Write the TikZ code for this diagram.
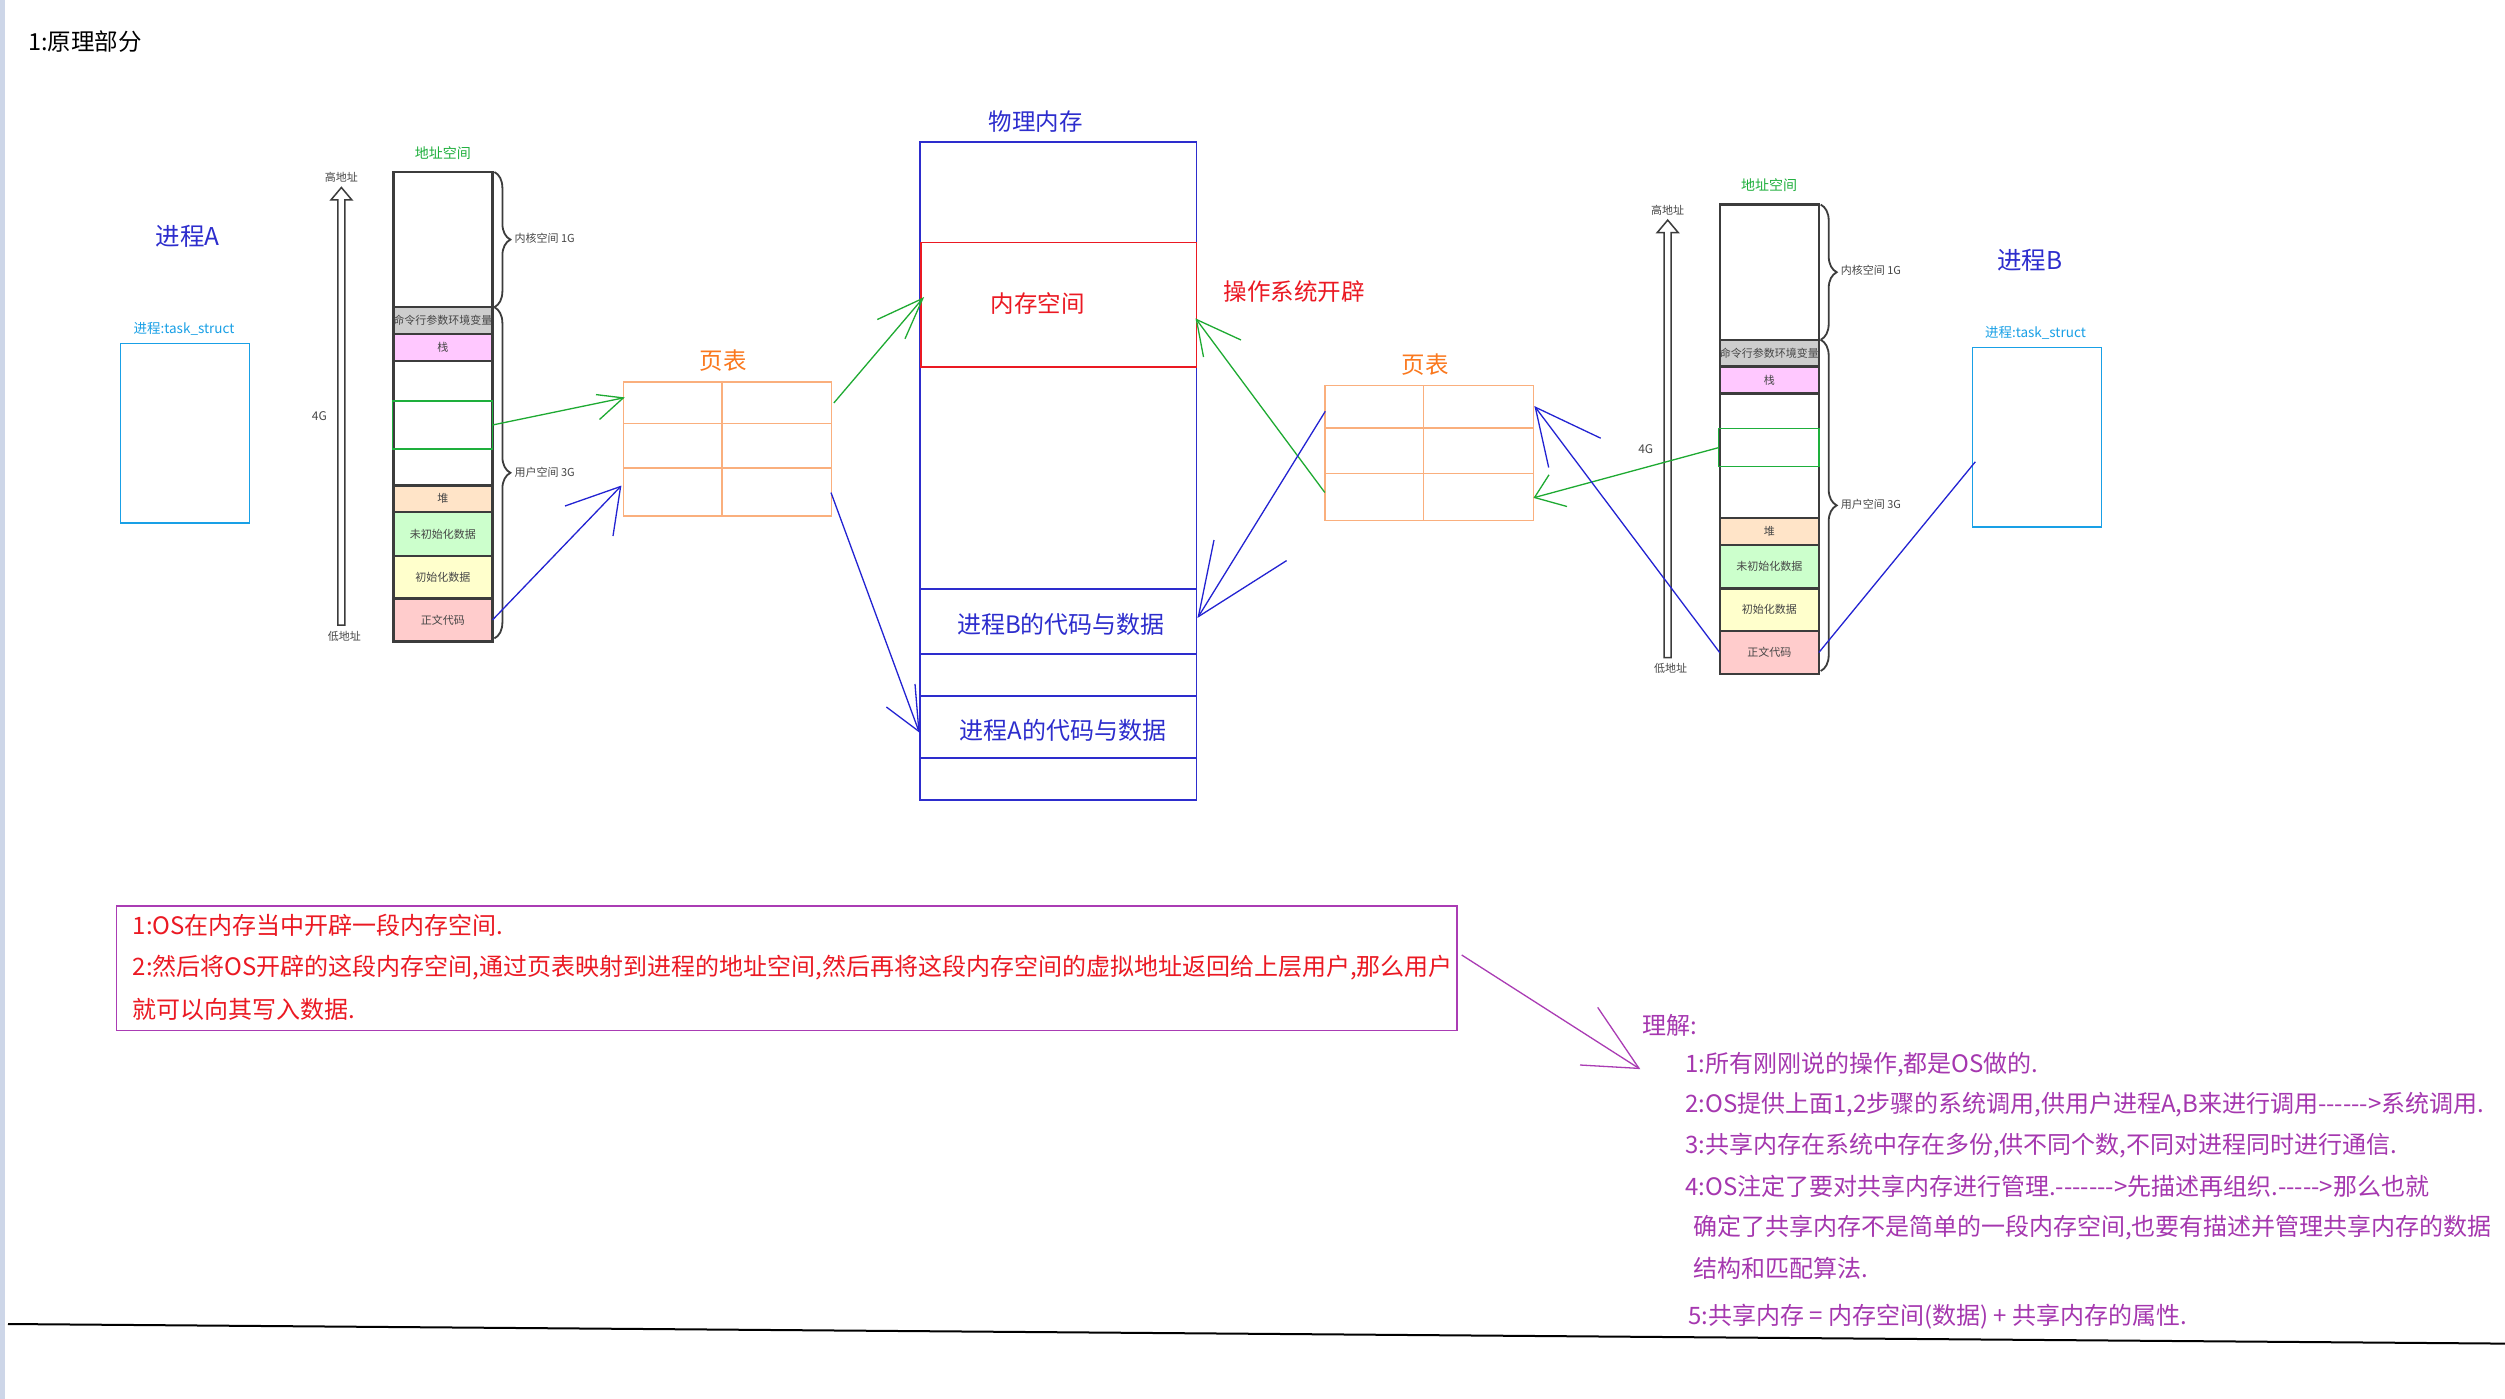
\documentclass[tikz,border=0pt]{standalone}
\usepackage{fontspec}
\setmainfont{Noto Sans CJK SC}[Ligatures=TeXOff]
\usetikzlibrary{decorations.pathreplacing}
\newcommand\myfs[1]{\fontsize{#1}{#1}\selectfont}
\definecolor{pblue}{RGB}{45,45,205}
\definecolor{cyanb}{RGB}{25,160,230}
\definecolor{agreen}{RGB}{30,175,60}
\definecolor{lgreen}{RGB}{30,170,50}
\definecolor{ablue}{RGB}{35,35,210}
\definecolor{orng}{RGB}{250,120,30}
\definecolor{ptl}{RGB}{250,175,125}
\definecolor{rred}{RGB}{235,25,35}
\definecolor{ppl}{RGB}{170,60,180}
\definecolor{ptext}{RGB}{165,55,175}
\definecolor{segline}{RGB}{60,60,60}
\definecolor{segtext}{RGB}{70,70,70}
\definecolor{cmdgray}{RGB}{205,205,205}
\definecolor{stackpink}{RGB}{255,200,255}
\definecolor{heappeach}{RGB}{255,228,200}
\definecolor{bssgreen}{RGB}{204,255,204}
\definecolor{datayellow}{RGB}{255,255,204}
\definecolor{textred}{RGB}{255,204,204}
\definecolor{leftstrip}{RGB}{205,214,232}
\definecolor{baseline}{RGB}{60,60,60}
\tikzset{
  seg/.style={draw=segline, line width=2.4pt, minimum width=99.1pt, inner sep=0pt, outer sep=0pt, anchor=north west, font={\myfs{11}}, text=segtext},
  lbl/.style={inner sep=0pt, font={\myfs{11}}, text=segtext},
  bigtxt/.style={inner sep=0pt, font={\myfs{23.5}}},
  gline/.style={draw=lgreen, line width=1.3pt},
  bline/.style={draw=ablue, line width=1.3pt},
  pline/.style={draw=ppl, line width=1.3pt},
  braced/.style={draw=segline, line width=1.8pt, decorate, decoration={brace, amplitude=16pt}},
  ptbox/.style={draw=ptl, line width=1.5pt, inner sep=0pt, outer sep=0pt, anchor=north west},
  ptgrid/.style={draw=ptl, line width=1.5pt},
  membox/.style={draw=pblue, line width=1.8pt, inner sep=0pt, outer sep=0pt, anchor=north west},
  notetxt/.style={inner sep=0pt, anchor=west, font={\myfs{24}}},
  tsbox/.style={draw=cyanb, line width=1.5pt, inner sep=0pt, outer sep=0pt, anchor=north west},
}
\newcommand\addrspace[5]{%
\begin{scope}[shift={(#2,#3)}]
\draw[segline, line width=1.5pt, fill=white] (-55.5,453) -- (-55.5,28) -- (-62.5,28) -- (-52,15.5) -- (-41.5,28) -- (-48.5,28) -- (-48.5,453) -- cycle;
\node[seg, minimum height=135.2pt, fill=white] (#1kern) at (0,0) {};
\node[seg, minimum height=26.8pt, fill=cmdgray] (#1cmd) at (0,135.2) {命令行参数环境变量};
\node[seg, minimum height=26.8pt, fill=stackpink] (#1stack) at (0,162) {栈};
\node[seg, minimum height=124.5pt, fill=white] (#1free) at (0,188.8) {};
\node[seg, minimum height=26.8pt, fill=heappeach] (#1heap) at (0,313.3) {堆};
\node[seg, minimum height=43.8pt, fill=bssgreen] (#1bss) at (0,340.1) {未初始化数据};
\node[seg, minimum height=42.4pt, fill=datayellow] (#1data) at (0,383.9) {初始化数据};
\node[seg, minimum height=43.3pt, fill=textred] (#1text) at (0,426.3) {正文代码};
\node[draw=agreen, line width=1.5pt, inner sep=0pt, outer sep=0pt, anchor=north west, minimum width=100.1pt, minimum height=#5pt] (#1shm) at (-1,#4) {};
\node[inner sep=0pt, font={\myfs{14}}, text=agreen] (#1title) at (49.5,-19) {地址空间};
\node[lbl] (#1hi) at (-52,5.7) {高地址};
\node[lbl] (#1lo) at (-49,464) {低地址};
\node[lbl, font={\myfs{12}}] (#1four) at (-74,244.5) {4G};
\draw[braced] (101,0) -- (101,135.2);
\draw[braced] (101,135.2) -- (101,466.4);
\node[lbl, anchor=west] (#1kl) at (121,66) {内核空间 1G};
\node[lbl, anchor=west] (#1ul) at (121,300) {用户空间 3G};
\end{scope}}
\begin{document}
\begin{tikzpicture}[x=1pt,y=-1pt]
\useasboundingbox (0,0) rectangle (2505,1399);
\fill[white] (0,0) rectangle (2505,1399);
\fill[leftstrip] (0,0) rectangle (5,1399);

\node[bigtxt] (title) at (85,42) {1:原理部分};

% process A
\node[bigtxt, font={\myfs{24.5}}, text=pblue] (procA) at (187.5,236.6) {进程A};
\node[inner sep=0pt, font={\myfs{13.5}}, text=cyanb] (tsAl) at (184,329) {进程:task\_struct};
\node[tsbox, minimum width=129pt, minimum height=179.5pt] (tsA) at (120.5,343.7) {};

% process B
\node[bigtxt, font={\myfs{24.5}}, text=pblue] (procB) at (2029.7,260.7) {进程B};
\node[inner sep=0pt, font={\myfs{13.5}}, text=cyanb] (tsBl) at (2035.4,332.9) {进程:task\_struct};
\node[tsbox, minimum width=129.3pt, minimum height=179.3pt] (tsB) at (1972.3,347.5) {};

% address spaces
\addrspace{A}{393.4}{172}{229}{48}
\addrspace{B}{1719.7}{204.6}{223.9}{38.2}

% page table A
\node[ptbox, minimum width=208.2pt, minimum height=134pt] (pta) at (623.3,382) {};
\draw[ptgrid] (722,382) -- (722,516);
\draw[ptgrid] (623.3,423.5) -- (831.5,423.5);
\draw[ptgrid] (623.3,468.2) -- (831.5,468.2);
\node[bigtxt, text=orng] (ptaL) at (723,361) {页表};

% page table B
\node[ptbox, minimum width=208.9pt, minimum height=134.8pt] (ptb) at (1324.8,385.6) {};
\draw[ptgrid] (1423.5,385.6) -- (1423.5,520.4);
\draw[ptgrid] (1324.8,428.2) -- (1533.7,428.2);
\draw[ptgrid] (1324.8,473.5) -- (1533.7,473.5);
\node[bigtxt, text=orng] (ptbL) at (1425,365) {页表};

% physical memory
\node[membox, minimum width=276.5pt, minimum height=658.1pt] (phys) at (920,142.2) {};
\node[bigtxt, text=pblue] (physL) at (1035.5,122) {物理内存};
\node[draw=rred, line width=1.8pt, inner sep=0pt, outer sep=0pt, anchor=north west, minimum width=275.5pt, minimum height=124.9pt] (shmem) at (921,242.4) {};
\node[bigtxt, text=rred] (shmemL) at (1037.5,303.4) {内存空间};
\node[bigtxt, text=rred] (osL) at (1294,292) {操作系统开辟};
\node[membox, minimum width=276.5pt, minimum height=65.2pt] (codeB) at (920,589) {};
\node[bigtxt, font={\myfs{24}}, text=pblue] (codeBL) at (1061,624) {进程B的代码与数据};
\node[membox, minimum width=276.5pt, minimum height=62pt] (codeA) at (920,695.6) {};
\node[bigtxt, font={\myfs{24}}, text=pblue] (codeAL) at (1063,730.5) {进程A的代码与数据};

% connector end points
\coordinate (g1t) at (623.3,397.9);
\coordinate (g2s) at (833.8,403);
\coordinate (g2t) at (922.8,298.4);
\coordinate (g3s) at (1324.8,492.5);
\coordinate (g3t) at (1196.4,319.5);
\coordinate (g4t) at (1534.5,497.5);
\coordinate (a2t) at (620.6,486.5);
\coordinate (a3s) at (831,492.6);
\coordinate (a3t) at (918.9,731.4);
\coordinate (b3s) at (1325.3,411.3);
\coordinate (b3t) at (1198.4,616.6);
\coordinate (b2t) at (1535.3,407.2);
\coordinate (b1t) at (1975.3,461.8);

% green connectors
\draw[gline] (Ashm.east) -- (g1t);
\draw[gline] (596,394.6) -- (g1t) -- (599.5,419.5);
\draw[gline] (g2s) -- (g2t);
\draw[gline] (877.3,319.5) -- (g2t) -- (905,338.8);
\draw[gline] (g3s) -- (g3t);
\draw[gline] (1241,340) -- (g3t) -- (1203.5,357);
\draw[gline] (Bshm.west) -- (g4t);
\draw[gline] (1549,474.8) -- (g4t) -- (1567,506.5);

% blue connectors
\draw[bline] (Atext.east) -- (a2t);
\draw[bline] (565,506) -- (a2t) -- (613,536);
\draw[bline] (a3s) -- (a3t);
\draw[bline] (886.4,707) -- (a3t) -- (915,684);
\draw[bline] (b3s) -- (b3t);
\draw[bline] (1214,540) -- (b3t) -- (1286.6,560.6);
\draw[bline] (Btext.west) -- (b2t);
\draw[bline] (1600.7,438.2) -- (b2t) -- (1548.7,467.5);
\draw[bline] (Btext.east) -- (b1t);

% note box
\node[draw=ppl, line width=1.5pt, inner sep=0pt, outer sep=0pt, anchor=north west, minimum width=1340.4pt, minimum height=124.6pt] (note) at (116.6,905.8) {};
\node[notetxt, text=rred] (n1) at (132.6,925) {1:OS在内存当中开辟一段内存空间.};
\node[notetxt, text=rred] (n2) at (132.6,968) {2:然后将OS开辟的这段内存空间,通过页表映射到进程的地址空间,然后再将这段内存空间的虚拟地址返回给上层用户,那么用户};
\node[notetxt, text=rred] (n3) at (132.6,1009.7) {就可以向其写入数据.};

% understanding
\node[notetxt, text=ptext] (u0) at (1642,1025) {理解:};
\node[notetxt, text=ptext] (u1) at (1685,1065) {1:所有刚刚说的操作,都是OS做的.};
\node[notetxt, text=ptext] (u2) at (1685,1105) {2:OS提供上面1,2步骤的系统调用,供用户进程A,B来进行调用------>系统调用.};
\node[notetxt, text=ptext] (u3) at (1685,1146) {3:共享内存在系统中存在多份,供不同个数,不同对进程同时进行通信.};
\node[notetxt, text=ptext] (u4) at (1685,1186) {4:OS注定了要对共享内存进行管理.------->先描述再组织.----->那么也就};
\node[notetxt, text=ptext] (u5) at (1693,1228) {确定了共享内存不是简单的一段内存空间,也要有描述并管理共享内存的数据};
\node[notetxt, text=ptext] (u6) at (1693,1268.5) {结构和匹配算法.};
\node[notetxt, text=ptext] (u7) at (1688,1316.4) {5:共享内存 = 内存空间(数据) + 共享内存的属性.};

\coordinate (ps) at (1461.7,955);
\coordinate (pt) at (1639,1068.4);
\draw[pline] (ps) -- (pt);
\draw[pline] (1597.7,1007.4) -- (pt) -- (1580,1065);

% bottom rule
\draw[baseline, line width=2pt] (8,1324) -- (2505,1343.6);
\end{tikzpicture}
\end{document}
